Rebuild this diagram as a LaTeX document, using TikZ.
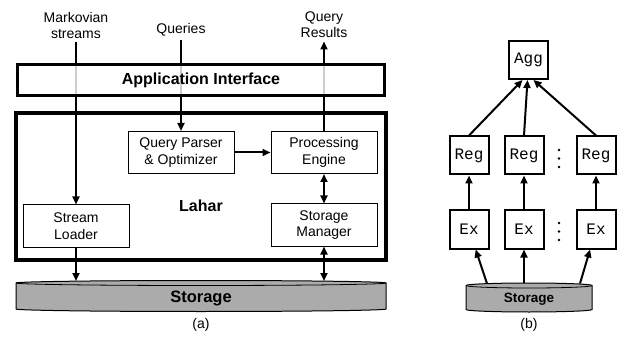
\documentclass[tikz,border=0pt]{standalone}
\usepackage{fontspec}
\setmainfont{Liberation Sans}
\setmonofont{Liberation Mono}
\usetikzlibrary{arrows.meta}
\definecolor{storgray}{gray}{0.67}

\begin{document}
\begin{tikzpicture}[x=1pt,y=-1pt,
    lbl/.style={align=center,font=\fontsize{14}{16}\selectfont},
    comp/.style={draw,line width=1pt,minimum width=106pt,minimum height=42pt,align=center,font=\fontsize{14}{16.5}\selectfont},
    op/.style={draw,line width=2pt,minimum width=39pt,minimum height=38pt,font=\ttfamily\fontsize{16}{18}\selectfont},
    big/.style={font=\bfseries\fontsize{16}{18}\selectfont},
    arr/.style={line width=2pt,-{Triangle[length=8pt,width=7pt]}},
    darr/.style={line width=2pt,{Triangle[length=8pt,width=7pt]}-{Triangle[length=8pt,width=7pt]}}]
    \useasboundingbox (0,0) rectangle (621,339);

    % (a) architecture
    \node[lbl] (mkv) at (76,25) {Markovian\\streams};
    \node[lbl] (qry) at (181,30) {Queries};
    \node[lbl] (qres) at (324,25) {Query\\Results};

    \draw[line width=3.2pt] (16,113) rectangle (386,260);
    \node[big] (lahar) at (201,206) {Lahar};
    \node[comp] (parser) at (181,152.5) {Query Parser\\\& Optimizer};
    \node[comp] (engine) at (324,152.5) {Processing\\Engine};
    \node[comp] (loader) at (76,226) {Stream\\Loader};
    \node[comp] (mgr) at (324,225) {Storage\\Manager};

    \filldraw[fill=storgray,line width=1pt] (16,283) -- (16,309) arc (180:0:185 and 2.5) -- (386,283) arc (360:180:185 and 2.5) -- cycle;
    \draw[line width=0.8pt] (16,283) arc (180:0:185 and 2.5);
    \node[big,font=\bfseries\fontsize{16.5}{18}\selectfont] (stora) at (201,298) {Storage};
    \coordinate (sa1) at (76,281);
    \coordinate (sa2) at (324,281);

    \draw[arr] (mkv) -- (loader);
    \draw[arr] (qry) -- (parser);
    \draw[arr] (engine) -- (qres);
    \draw[arr] (parser) -- (engine);
    \draw[darr] (engine) -- (mgr);
    \draw[darr] (mgr) -- (sa2);
    \draw[arr] (loader) -- (sa1);

    \node[draw,line width=3.2pt,fill=white,fill opacity=0.8,text opacity=1,minimum width=367pt,minimum height=31pt,big] (appif) at (201,80) {Application Interface};
    \node[lbl] (capa) at (201,325) {(a)};

    % (b) operator plan
    \node[op] (agg) at (528.5,60) {Agg};
    \node[op] (reg1) at (469,155.5) {Reg};
    \node[op] (reg2) at (524,155.5) {Reg};
    \node[op] (reg3) at (596,155.5) {Reg};
    \node[op] (ex1) at (469,229.5) {Ex};
    \node[op] (ex2) at (524,229.5) {Ex};
    \node[op] (ex3) at (596,229.5) {Ex};
    \foreach \y in {150,158.5,167,223,231.5,240}
        \fill (559,\y) circle (1.3);

    \filldraw[fill=storgray,line width=1pt] (466,285.5) -- (466,309.5) arc (180:0:63 and 2.5) -- (592,285.5) arc (360:180:63 and 2.5) -- cycle;
    \draw[line width=0.8pt] (466,285.5) arc (180:0:63 and 2.5);
    \node[font=\bfseries\fontsize{13.5}{16}\selectfont] (storb) at (529,299) {Storage};
    \coordinate (sb1) at (487,283.5);
    \coordinate (sb2) at (524,283);
    \coordinate (sb3) at (580,283.5);

    \draw[arr] (sb1) -- (ex1);
    \draw[arr] (sb2) -- (ex2);
    \draw[arr] (sb3) -- (ex3);
    \draw[arr] (ex1) -- (reg1);
    \draw[arr] (ex2) -- (reg2);
    \draw[arr] (ex3) -- (reg3);
    \draw[arr] (reg1.north) -- ([xshift=-6pt]agg.south);
    \draw[arr] (reg2.north) -- ([xshift=-1pt]agg.south);
    \draw[arr] (reg3.north) -- ([xshift=5pt]agg.south);
    \node[lbl] (capb) at (529,325) {(b)};
\end{tikzpicture}
\end{document}
